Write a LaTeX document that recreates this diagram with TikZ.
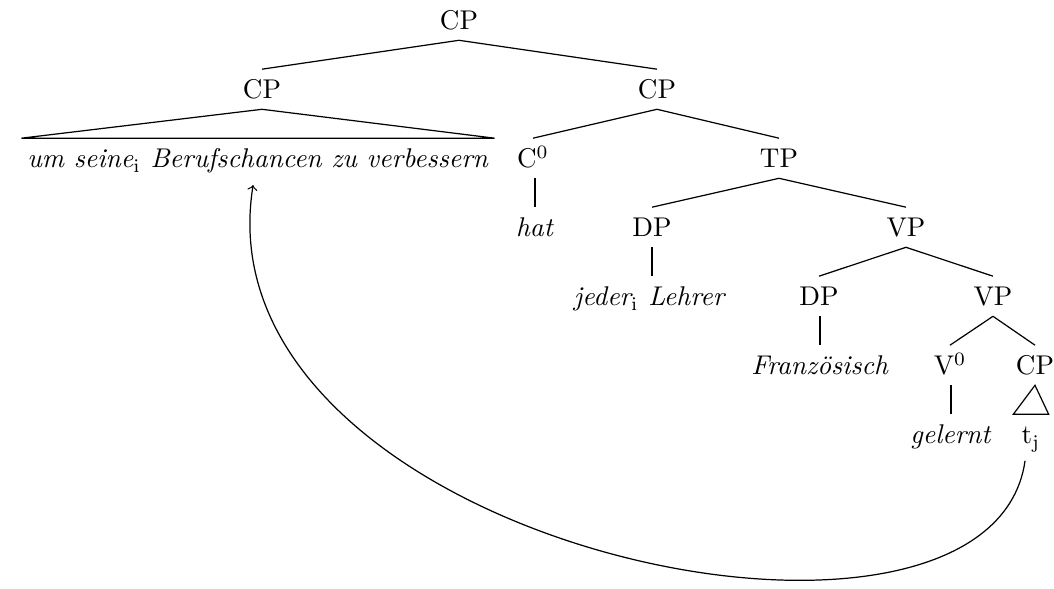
\documentclass[tikz,border=0pt]{standalone}
\begin{document}
\begin{tikzpicture}[x=0.369pt,y=-0.369pt,
  syn/.style={inner sep=0pt, text height=10.8pt, text depth=3.6pt, anchor=base},
  phrase/.style={syn, inner xsep=2pt},
  branch/.style={line width=0.45pt},
  movement/.style={line width=0.45pt, ->}]
\useasboundingbox (0,0) rectangle (1054,589);

% nodes, placed by baseline
\node[syn] (cp)    at (459,30)  {CP};
\node[syn] (cpl)   at (262,99)  {CP};
\node[syn] (cpr)   at (657,99)  {CP};
\node[phrase] (adj) at (258,168) {\textit{um seine$_\mathrm{i}$ Berufschancen zu verbessern}};
\node[syn] (c0)    at (533,168) {C$^0$};
\node[syn] (tp)    at (779,168) {TP};
\node[syn] (hat)   at (535,237) {\textit{hat}};
\node[syn] (dp1)   at (652,237) {DP};
\node[syn] (vp1)   at (906,237) {VP};
\node[syn] (jeder) at (650,306) {\textit{jeder$_\mathrm{i}$ Lehrer}};
\node[syn] (dp2)   at (819,306) {DP};
\node[syn] (vp2)   at (993,306) {VP};
\node[syn] (franz) at (820,375) {\textit{Französisch}};
\node[syn] (v0)    at (950,375) {V$^0$};
\node[syn] (cp3)   at (1035,375) {CP};
\node[syn] (gel)   at (951,444) {\textit{gelernt}};
\node[syn] (tj)    at (1031,444) {t$_\mathrm{j}$};

% branches
\draw[branch] (cp.south) -- (cpl.north);
\draw[branch] (cp.south) -- (cpr.north);
\draw[branch] (cpl.south) -- (adj.north west) -- (adj.north east) -- cycle;
\draw[branch] (cpr.south) -- (c0.north);
\draw[branch] (cpr.south) -- (tp.north);
\draw[branch] (hat.north |- c0.south) -- (hat.north);
\draw[branch] (tp.south) -- (dp1.north);
\draw[branch] (tp.south) -- (vp1.north);
\draw[branch] (dp1.south) -- (dp1.south |- jeder.north);
\draw[branch] (vp1.south) -- (dp2.north);
\draw[branch] (vp1.south) -- (vp2.north);
\draw[branch] (franz.north |- dp2.south) -- (franz.north);
\draw[branch] (vp2.south) -- (v0.north);
\draw[branch] (vp2.south) -- (cp3.north);
\draw[branch] (gel.north |- v0.south) -- (gel.north);
\draw[branch] (cp3.south) -- ([xshift=-6.5pt]tj.north) -- ([xshift=6.5pt]tj.north) -- cycle;

% movement arrow
\draw[movement] ([shift={(-2.2pt,-2.4pt)}]tj.south) .. controls (990,710) and (195,546) .. ([shift={(-1.8pt,-2.5pt)}]adj.south);
\end{tikzpicture}
\end{document}
